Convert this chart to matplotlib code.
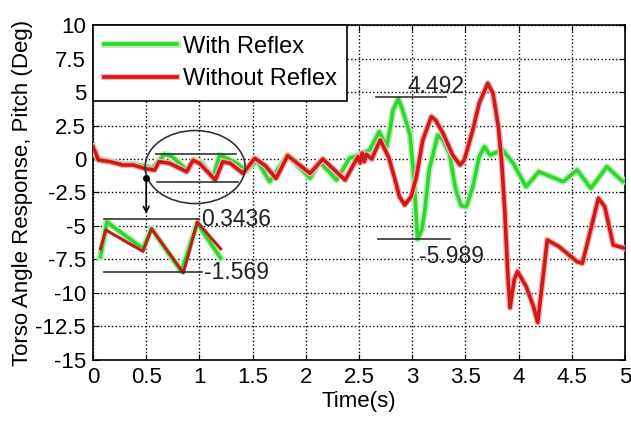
import matplotlib
matplotlib.use('Agg')
import matplotlib.pyplot as plt
import matplotlib.patheffects as pe
from matplotlib.patches import Ellipse

plt.rcParams['font.family'] = ['Liberation Sans', 'DejaVu Sans']
plt.rcParams['axes.unicode_minus'] = False

# Torso pitch response, without reflex (red)
red_t = [0.00, 0.05, 0.16, 0.28, 0.38, 0.49, 0.58, 0.62, 0.72, 0.88, 0.94, 1.00, 1.15, 1.22,
         1.29, 1.41, 1.52, 1.62, 1.72, 1.83, 2.04, 2.16, 2.37, 2.49, 2.51, 2.53, 2.55, 2.57,
         2.62, 2.70, 2.78, 2.84, 2.88, 2.93, 2.99, 3.04, 3.10, 3.18, 3.22, 3.29, 3.38, 3.45,
         3.49, 3.57, 3.63, 3.71, 3.76, 3.81, 3.84, 3.87, 3.90, 3.92, 3.96, 3.99, 4.07, 4.14,
         4.18, 4.23, 4.27, 4.38, 4.55, 4.60, 4.67, 4.75, 4.81, 4.89, 5.00]
red_y = [0.92, -0.07, -0.2, -0.45, -0.45, -0.72, -0.82, -0.2, -0.32, -0.95, -0.1, -0.32, -1.57, -0.2,
         -0.32, -1.07, 0.05, -0.5, -1.45, 0.25, -1.07, 0.0, -1.57, 0.17, -0.3, 0.45, -0.2, 0.35,
         0.0, 1.42, 0.1, -1.57, -2.81, -3.43, -2.81, -1.32, 1.42, 3.16, 2.9, 1.92, 0.3, -0.45,
         -0.07, 2.16, 4.16, 5.65, 4.9, 2.41, -0.07, -3.8, -8.8, -11.1, -9.0, -8.4, -9.5, -11.0,
         -12.2, -8.8, -6.04, -6.54, -7.66, -7.78, -5.54, -2.93, -3.56, -6.42, -6.66]

# Torso pitch response, with reflex (green)
green_t = [0.00, 0.05, 0.16, 0.28, 0.38, 0.47, 0.56, 0.67, 0.74, 0.88, 0.95, 1.02, 1.13, 1.19,
           1.35, 1.44, 1.54, 1.66, 1.83, 2.04, 2.13, 2.29, 2.41, 2.50, 2.60, 2.69, 2.76, 2.79,
           2.82, 2.87, 2.91, 2.98, 3.01, 3.04, 3.05, 3.09, 3.12, 3.16, 3.24, 3.29, 3.35, 3.41,
           3.46, 3.51, 3.57, 3.63, 3.68, 3.73, 3.81, 3.85, 3.95, 4.07, 4.19, 4.42, 4.55, 4.68,
           4.83, 4.98, 5.00]
green_y = [0.9, 0.0, -0.2, -0.4, -0.4, -0.5, -0.7, 0.34, 0.2, -0.8, -0.1, -0.3, -1.4, 0.3,
           -0.3, -0.9, -0.1, -1.69, 0.3, -1.44, -0.2, -1.57, 0.05, 0.3, 0.67, 2.04, 0.92, 2.16,
           3.66, 4.49, 3.66, 1.79, -0.82, -4.55, -5.99, -5.3, -3.8, -0.82, 1.79, 1.42, 0.42, -2.31,
           -3.5, -3.56, -2.07, 0.17, 0.92, 0.3, 0.55, 0.67, -0.32, -2.07, -0.95, -1.69, -0.82, -2.19,
           -0.57, -1.69, -1.6]

# zoomed inset (magnified copy of the circled part)
inset_green_t = [0.07, 0.13, 0.47, 0.55, 0.83, 0.98, 1.20]
inset_green_y = [-7.3, -4.7, -6.7, -5.2, -8.4, -4.8, -7.4]
inset_red_t = [0.07, 0.12, 0.47, 0.55, 0.85, 0.98, 1.20]
inset_red_y = [-6.7, -5.3, -6.9, -5.2, -8.5, -4.7, -6.7]

xticks = [0, 0.5, 1, 1.5, 2, 2.5, 3, 3.5, 4, 4.5, 5]
xlabels = ['0', '0.5', '1', '1.5', '2', '2.5', '3', '3.5', '4', '4.5', '5']
yticks = [10, 7.5, 5, 2.5, 0, -2.5, -5, -7.5, -10, -12.5, -15]
ylabels = ['10', '7.5', '5', '2.5', '0', '-2.5', '-5', '-7.5', '-10', '-12.5', '-15']

fig = plt.figure(figsize=(6.31, 4.24), dpi=100)
ax = fig.add_axes([0.1474, 0.151, 0.843, 0.790])

g_glow = [pe.Stroke(linewidth=5, foreground='#b8f0b8'), pe.Normal()]
r_glow = [pe.Stroke(linewidth=4.5, foreground='#f0b0b0'), pe.Normal()]

ax.plot(green_t, green_y, color='#2ed62e', lw=2.6, label='With Reflex', zorder=3, path_effects=g_glow)
ax.plot(red_t, red_y, color='#d01818', lw=2.6, label='Without Reflex', zorder=4, path_effects=r_glow)
ax.plot(inset_green_t, inset_green_y, color='#2ed62e', lw=2.6, zorder=3, path_effects=g_glow)
ax.plot(inset_red_t, inset_red_y, color='#c81a1a', lw=2.2, zorder=4)

# marker lines and values
lc = '#333333'
ax.plot([0.59, 1.34], [0.4, 0.4], color=lc, lw=1.2, zorder=5)
ax.plot([0.60, 1.36], [-1.75, -1.75], color=lc, lw=1.2, zorder=5)
ax.plot([0.10, 1.00], [-4.5, -4.5], color=lc, lw=1.2, zorder=5)
ax.plot([0.10, 1.02], [-8.4, -8.4], color=lc, lw=1.2, zorder=5)
ax.plot([2.66, 3.32], [4.6, 4.6], color=lc, lw=1.2, zorder=5)
ax.plot([2.68, 3.36], [-5.97, -5.97], color=lc, lw=1.2, zorder=5)
ax.add_patch(Ellipse((0.96, -0.6), 0.94, 5.45, fill=False, ec=lc, lw=1.2, zorder=5))
ax.plot([0.5], [-1.45], 'o', color='black', ms=4, zorder=6)
ax.annotate('', xy=(0.5, -4.3), xytext=(0.5, -1.45),
            arrowprops=dict(arrowstyle='->', color='black', lw=1.2), zorder=6)

tc = '#222222'
ax.text(1.02, -4.55, '0.3436', fontsize=16.5, color=tc, va='center', ha='left')
ax.text(1.04, -8.5, '-1.569', fontsize=16.5, color=tc, va='center', ha='left')
ax.text(2.96, 4.55, '4.492', fontsize=16.5, color=tc, va='bottom', ha='left')
ax.text(3.06, -7.3, '-5.989', fontsize=16.5, color=tc, va='center', ha='left')

ax.set_xlim(0, 5)
ax.set_ylim(-15, 10)
ax.set_xticks(xticks)
ax.set_xticklabels(xlabels)
ax.set_yticks(yticks)
ax.set_yticklabels(ylabels)
ax.tick_params(direction='in', top=True, right=True, labelsize=16, length=4, pad=5)
ax.grid(True, linestyle=':', color='black', lw=1)
for s in ax.spines.values():
    s.set_linewidth(1.2)

ax.set_xlabel('Time(s)', fontsize=16, labelpad=2)
ax.set_ylabel('Torso Angle Response, Pitch (Deg)', fontsize=16, labelpad=2)

leg = ax.legend(loc='upper left', fontsize=17, frameon=True, fancybox=False,
                edgecolor='black', borderaxespad=0, handlelength=3.1,
                handletextpad=0.25, borderpad=0.45, labelspacing=0.45, framealpha=1)
leg.get_frame().set_linewidth(1.2)
leg.set_zorder(10)

fig.savefig('out.png', dpi=100)
